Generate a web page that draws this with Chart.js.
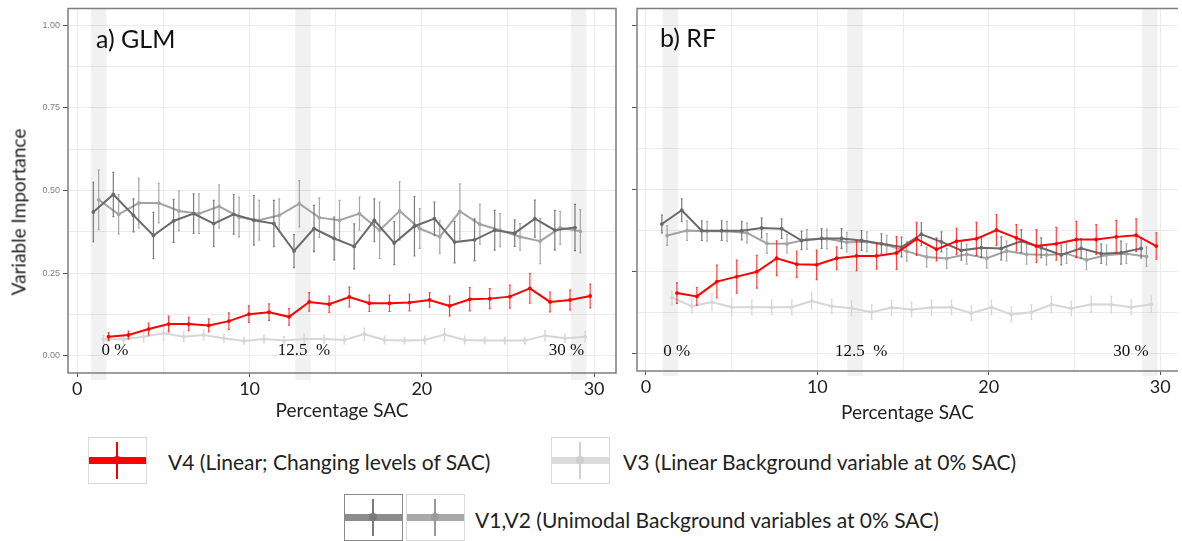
<!DOCTYPE html>
<html>
<head>
<meta charset="utf-8">
<script src="https://cdn.jsdelivr.net/npm/chart.js@4.4.1/dist/chart.umd.min.js"></script>
<style>
    body { margin: 0; background: #fff; }
    #wrap { position: relative; width: 1182px; height: 541px; overflow: hidden; font-family: Lato, sans-serif; }
    canvas { position: absolute; top: 0; }
    #glmChart { left: 0; }
    #rfChart { left: 620px; }
    #yTitle { position: absolute; left: 18px; top: 212px; transform: translate(-50%, -50%) rotate(-90deg); font-size: 19px; white-space: nowrap; color: #222; }
    .key { position: absolute; width: 57px; height: 45px; border: 1px solid #d9d9d9; background: #fff; }
    .key .bar { position: absolute; left: 0; right: 0; top: 19px; height: 7px; }
    .key .whisker { position: absolute; left: 27px; width: 2px; top: 4px; bottom: 4px; }
    .key .dot { position: absolute; left: 24px; top: 18px; width: 8px; height: 8px; border-radius: 50%; }
    .keyText { position: absolute; font-size: 21px; color: #222; white-space: nowrap; transform: translateY(-50%); }
</style>
</head>
<body>
<div id="wrap">
    <canvas id="glmChart" width="625" height="425"></canvas>
    <canvas id="rfChart" width="562" height="425"></canvas>
    <div id="yTitle">Variable Importance</div>

    <div class="key" style="left:88px;top:437px">
        <div class="bar" style="background:#ff0000"></div><div class="whisker" style="background:#ff0000"></div><div class="dot" style="background:#ff0000"></div>
    </div>
    <div class="keyText" style="left:168px;top:461px">V4 (Linear; Changing levels of SAC)</div>

    <div class="key" style="left:551px;top:437px">
        <div class="bar" style="background:#dcdcdc"></div><div class="whisker" style="background:#d0d0d0"></div><div class="dot" style="background:#cfcfcf"></div>
    </div>
    <div class="keyText" style="left:623px;top:461px">V3 (Linear Background variable at 0% SAC)</div>

    <div class="key" style="left:344px;top:494px;border-color:#8a8a8a">
        <div class="bar" style="background:#8c8c8c"></div><div class="whisker" style="background:#7a7a7a"></div><div class="dot" style="background:#7a7a7a"></div>
    </div>
    <div class="key" style="left:406px;top:494px">
        <div class="bar" style="background:#a9a9a9"></div><div class="whisker" style="background:#9a9a9a"></div><div class="dot" style="background:#9a9a9a"></div>
    </div>
    <div class="keyText" style="left:475px;top:519px">V1,V2 (Unimodal Background variables at 0% SAC)</div>
</div>

<script>
// Niveles de SAC (posicion en el eje x)
const sacLevels = [1.37, 2.53, 3.70, 4.86, 6.03, 7.19, 8.36, 9.52, 10.69, 11.85, 13.02, 14.18, 15.35,
    16.51, 17.68, 18.84, 20.01, 21.17, 22.34, 23.50, 24.67, 25.83, 27.00, 28.16, 29.33];

const xTickLabels = [0, 10, 20, 30];
const yTickLabels = [0, 0.25, 0.5, 0.75, 1];

// a) GLM
const glmV1 = [0.435, 0.488, 0.425, 0.364, 0.408, 0.430, 0.400, 0.428, 0.410, 0.400, 0.317, 0.385, 0.355,
    0.331, 0.410, 0.341, 0.392, 0.415, 0.344, 0.351, 0.380, 0.371, 0.415, 0.380, 0.388];
const glmV1Err = [0.090, 0.067, 0.050, 0.070, 0.065, 0.060, 0.070, 0.060, 0.075, 0.070, 0.050, 0.070, 0.065,
    0.068, 0.065, 0.065, 0.090, 0.050, 0.063, 0.063, 0.060, 0.040, 0.056, 0.060, 0.070];
const glmV2 = [0.472, 0.428, 0.462, 0.462, 0.438, 0.430, 0.452, 0.420, 0.410, 0.425, 0.460, 0.418, 0.410,
    0.430, 0.380, 0.438, 0.385, 0.360, 0.437, 0.398, 0.380, 0.360, 0.347, 0.387, 0.377];
const glmV2Err = [0.090, 0.060, 0.075, 0.060, 0.060, 0.060, 0.065, 0.060, 0.060, 0.050, 0.070, 0.060, 0.060,
    0.050, 0.085, 0.088, 0.060, 0.050, 0.083, 0.060, 0.050, 0.040, 0.068, 0.050, 0.065];
const glmV3 = [0.050, 0.050, 0.058, 0.068, 0.058, 0.063, 0.053, 0.045, 0.051, 0.046, 0.051, 0.051, 0.048,
    0.066, 0.048, 0.046, 0.048, 0.064, 0.048, 0.046, 0.046, 0.046, 0.061, 0.053, 0.058];
const glmV3Err = [0.012, 0.012, 0.015, 0.020, 0.015, 0.015, 0.012, 0.010, 0.012, 0.012, 0.015, 0.012, 0.012,
    0.018, 0.012, 0.010, 0.012, 0.018, 0.012, 0.010, 0.010, 0.010, 0.015, 0.012, 0.015];
const glmV4 = [0.058, 0.063, 0.081, 0.096, 0.096, 0.092, 0.105, 0.126, 0.132, 0.118, 0.163, 0.156, 0.178,
    0.159, 0.159, 0.161, 0.169, 0.151, 0.171, 0.173, 0.179, 0.204, 0.163, 0.169, 0.181];
const glmV4Err = [0.012, 0.012, 0.018, 0.024, 0.020, 0.020, 0.025, 0.025, 0.025, 0.025, 0.028, 0.025, 0.030,
    0.025, 0.025, 0.025, 0.022, 0.030, 0.035, 0.030, 0.035, 0.045, 0.030, 0.030, 0.036];

// b) RF
const rfV1 = [0.395, 0.437, 0.375, 0.375, 0.375, 0.383, 0.381, 0.345, 0.351, 0.351, 0.345, 0.335, 0.325,
    0.364, 0.341, 0.315, 0.323, 0.321, 0.343, 0.323, 0.301, 0.321, 0.305, 0.308, 0.321];
const rfV1Err = [0.027, 0.035, 0.030, 0.030, 0.028, 0.030, 0.030, 0.028, 0.030, 0.030, 0.030, 0.030, 0.030,
    0.035, 0.030, 0.030, 0.030, 0.035, 0.035, 0.030, 0.030, 0.030, 0.030, 0.035, 0.030];
const rfV2 = [0.360, 0.375, 0.373, 0.373, 0.368, 0.336, 0.335, 0.348, 0.350, 0.340, 0.341, 0.331, 0.312,
    0.295, 0.290, 0.303, 0.291, 0.313, 0.303, 0.301, 0.305, 0.286, 0.301, 0.305, 0.296];
const rfV2Err = [0.030, 0.030, 0.030, 0.030, 0.030, 0.030, 0.028, 0.030, 0.030, 0.030, 0.030, 0.030, 0.030,
    0.030, 0.030, 0.030, 0.030, 0.030, 0.030, 0.030, 0.030, 0.030, 0.030, 0.030, 0.030];
const rfV3 = [0.171, 0.145, 0.158, 0.142, 0.142, 0.142, 0.142, 0.161, 0.145, 0.139, 0.127, 0.141, 0.135,
    0.141, 0.142, 0.124, 0.142, 0.120, 0.127, 0.150, 0.138, 0.151, 0.150, 0.142, 0.151];
const rfV3Err = [0.020, 0.020, 0.025, 0.025, 0.022, 0.022, 0.022, 0.025, 0.022, 0.022, 0.022, 0.022, 0.022,
    0.022, 0.022, 0.022, 0.022, 0.022, 0.022, 0.025, 0.022, 0.025, 0.025, 0.022, 0.025];
const rfV4 = [0.185, 0.175, 0.220, 0.235, 0.250, 0.291, 0.273, 0.271, 0.291, 0.298, 0.298, 0.307, 0.350,
    0.318, 0.343, 0.350, 0.377, 0.353, 0.328, 0.335, 0.348, 0.348, 0.356, 0.361, 0.328];
const rfV4Err = [0.031, 0.027, 0.050, 0.050, 0.050, 0.053, 0.040, 0.045, 0.035, 0.045, 0.040, 0.050, 0.050,
    0.035, 0.040, 0.050, 0.047, 0.040, 0.050, 0.050, 0.055, 0.045, 0.050, 0.050, 0.040];

// Desplazamiento (dodge) de cada serie alrededor del nivel de SAC
const dodge = { V1: -0.44, V2: -0.13, V3: 0.15, V4: 0.44 };
const bandHalf = 0.45;

function toPoints(values, errors, shift) {
    return values.map((v, i) => ({ x: sacLevels[i] + shift, y: v, err: errors[i] }));
}

function series(label, values, errors, color, errColor) {
    return {
        label: label,
        data: toPoints(values, errors, dodge[label]),
        borderColor: color,
        backgroundColor: color,
        pointBackgroundColor: color,
        pointBorderColor: color,
        pointRadius: 1.9,
        pointBorderWidth: 0,
        borderWidth: 2,
        showLine: true,
        tension: 0,
        errorColor: errColor
    };
}

const isStep = (v, step) => Math.abs(v / step - Math.round(v / step)) < 1e-6;

// Bandas grises, barras de error, etiquetas y marco
const panelDecor = {
    id: 'panelDecor',
    beforeDatasetsDraw(chart, args, opts) {
        const { ctx, chartArea: a, scales: { x } } = chart;
        ctx.save();
        ctx.fillStyle = 'rgba(0,0,0,0.055)';
        opts.bands.forEach(b => {
            const x0 = x.getPixelForValue(b - bandHalf);
            const x1 = x.getPixelForValue(b + bandHalf);
            ctx.fillRect(x0, a.top, x1 - x0, a.bottom - a.top + opts.bandDrop);
        });
        ctx.restore();
    },
    beforeDatasetDraw(chart, args) {
        const { ctx, scales: { y } } = chart;
        const ds = chart.data.datasets[args.index];
        ctx.save();
        ctx.strokeStyle = ds.errorColor;
        ctx.lineWidth = 1.2;
        args.meta.data.forEach((pt, i) => {
            const p = ds.data[i];
            const top = y.getPixelForValue(p.y + p.err);
            const bottom = y.getPixelForValue(p.y - p.err);
            ctx.beginPath();
            ctx.moveTo(pt.x, top); ctx.lineTo(pt.x, bottom);
            ctx.moveTo(pt.x - 1, top); ctx.lineTo(pt.x + 1, top);
            ctx.moveTo(pt.x - 1, bottom); ctx.lineTo(pt.x + 1, bottom);
            ctx.stroke();
        });
        ctx.restore();
    },
    afterDatasetsDraw(chart, args, opts) {
        const { ctx, scales: { x, y } } = chart;
        ctx.save();
        ctx.fillStyle = '#111';
        ctx.font = '17px "Liberation Serif", serif';
        ctx.textAlign = 'center';
        ctx.textBaseline = 'middle';
        opts.notes.forEach(n => ctx.fillText(n.text, x.getPixelForValue(n.at), y.getPixelForValue(opts.noteY)));
        ctx.textAlign = 'left';
        ctx.textBaseline = 'alphabetic';
        ctx.font = '25px Lato, sans-serif';
        ctx.fillText(opts.title, opts.titleX, opts.titleY);
        ctx.restore();
    },
    afterDraw(chart, args, opts) {
        const { ctx, chartArea: a } = chart;
        ctx.save();
        ctx.strokeStyle = '#7f7f7f';
        ctx.lineWidth = 1.5;
        ctx.beginPath();
        if (opts.closed) {
            ctx.rect(a.left, a.top, a.right - a.left, a.bottom - a.top);
        } else {
            ctx.moveTo(a.right, a.top); ctx.lineTo(a.left, a.top);
            ctx.lineTo(a.left, a.bottom); ctx.lineTo(a.right, a.bottom);
        }
        ctx.stroke();
        ctx.restore();
    }
};

function renderPanel(canvasId, sets, cfg) {
    const ctx = document.getElementById(canvasId).getContext('2d');
    new Chart(ctx, {
        type: 'scatter',
        data: {
            datasets: [
                series('V4', sets.v4, sets.v4Err, '#ff0000', 'rgba(255,0,0,0.75)'),
                series('V1', sets.v1, sets.v1Err, '#6a6a6a', 'rgba(100,100,100,0.85)'),
                series('V2', sets.v2, sets.v2Err, '#a3a3a3', 'rgba(150,150,150,0.85)'),
                series('V3', sets.v3, sets.v3Err, '#d6d6d6', '#d6d6d6')
            ]
        },
        plugins: [panelDecor],
        options: {
            responsive: false,
            animation: false,
            layout: { padding: cfg.padding },
            plugins: {
                legend: { display: false },
                tooltip: { enabled: false },
                panelDecor: {
                    bands: cfg.bands,
                    bandDrop: cfg.bandDrop,
                    notes: cfg.notes,
                    noteY: cfg.noteY,
                    title: cfg.title,
                    titleX: cfg.titleX,
                    titleY: cfg.titleY,
                    closed: cfg.closed
                }
            },
            scales: {
                x: {
                    type: 'linear',
                    min: cfg.xMin,
                    max: cfg.xMax,
                    afterFit: s => { s.height = cfg.xHeight; },
                    border: { display: false },
                    grid: {
                        color: '#ebebeb',
                        lineWidth: 1,
                        tickLength: 4,
                        tickColor: c => (c.tick && xTickLabels.includes(c.tick.value)) ? '#555' : 'rgba(0,0,0,0)'
                    },
                    ticks: {
                        stepSize: 5,
                        includeBounds: false,
                        autoSkip: false,
                        maxRotation: 0,
                        padding: 1,
                        color: '#222',
                        font: { family: 'Lato', size: 18 },
                        callback: v => xTickLabels.includes(v) ? String(v) : ''
                    },
                    title: {
                        display: true,
                        text: 'Percentage SAC',
                        color: '#222',
                        font: { family: 'Lato', size: 19 },
                        padding: { top: 0, bottom: cfg.xTitlePad }
                    }
                },
                y: {
                    type: 'linear',
                    min: -0.052,
                    max: 1.051,
                    afterFit: s => { s.width = cfg.yWidth; },
                    border: { display: false },
                    grid: {
                        color: '#ebebeb',
                        lineWidth: 1,
                        tickLength: 5,
                        tickColor: c => (c.tick && isStep(c.tick.value, 0.25)) ? '#555' : 'rgba(0,0,0,0)'
                    },
                    ticks: {
                        stepSize: 0.125,
                        includeBounds: false,
                        autoSkip: false,
                        padding: 3,
                        color: '#7d7d8c',
                        font: { family: 'Liberation Sans', size: 9 },
                        callback: v => (cfg.yLabels && yTickLabels.some(t => Math.abs(t - v) < 1e-6)) ? v.toFixed(2) : ''
                    }
                }
            }
        }
    });
}

// Panel a) GLM
renderPanel('glmChart',
    { v1: glmV1, v1Err: glmV1Err, v2: glmV2, v2Err: glmV2Err, v3: glmV3, v3Err: glmV3Err, v4: glmV4, v4Err: glmV4Err },
    {
        padding: { left: 0, top: 7, right: 9, bottom: 0 },
        yWidth: 68, xHeight: 52, xTitlePad: 3,
        xMin: -0.54, xMax: 31.27,
        yLabels: true,
        bands: [1.24, 13.1, 29.1], bandDrop: 7,
        notes: [{ text: '0 %', at: 2.19 }, { text: '12.5  %', at: 13.15 }, { text: '30 %', at: 28.4 }],
        noteY: 0.015,
        title: 'a) GLM', titleX: 96, titleY: 48,
        closed: true
    });

// Panel b) RF
renderPanel('rfChart',
    { v1: rfV1, v1Err: rfV1Err, v2: rfV2, v2Err: rfV2Err, v3: rfV3, v3Err: rfV3Err, v4: rfV4, v4Err: rfV4Err },
    {
        padding: { left: 0, top: 4, right: 0, bottom: 0 },
        yWidth: 17, xHeight: 54, xTitlePad: 1,
        xMin: -0.52, xMax: 31.04,
        yLabels: false,
        bands: [1.42, 12.2, 29.4], bandDrop: 5,
        notes: [{ text: '0 %', at: 1.8 }, { text: '12.5  %', at: 12.56 }, { text: '30 %', at: 28.3 }],
        noteY: 0.006,
        title: 'b) RF', titleX: 40, titleY: 47,
        closed: false
    });
</script>
</body>
</html>
